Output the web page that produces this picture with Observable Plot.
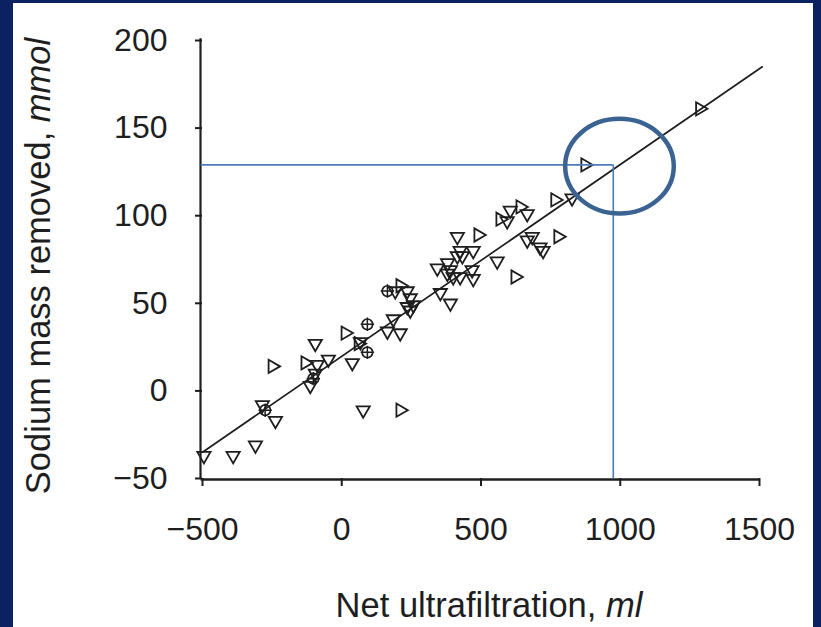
<!DOCTYPE html>
<html><head><meta charset="utf-8">
<script src="https://cdn.jsdelivr.net/npm/d3@7"></script>
<script src="https://cdn.jsdelivr.net/npm/@observablehq/plot@0.6"></script>
<style>
html,body{margin:0;padding:0;background:#0b2161;width:821px;height:627px;overflow:hidden}
#panel{position:absolute;left:13px;top:3px;width:800px;height:624px;background:#fff}
</style></head><body><div id="panel"></div>
<script>
// Data
const downX = [-495,-390,-310,-285,-238,-95,-88,-113,-95,-48,38,67,77,164,210,185,246,257,235,192,354,390,343,379,400,415,425,433,472,390,468,472,425,558,666,594,666,712,723,827,684,235,246,605,380,415];
const downY = [-37,-37,-31,-8,-17,27,15,3,10,18,16,28,-11,34,33,41,53,49,48,57,56,50,70,67,65,88,80,77,80,69,69,64,65,74,101,97,86,82,80,110,88,57,46,103,73,77];
const rightX = [-249,-131,13,60,210,210,490,623,641,569,766,777,874,1286];
const rightY = [14,16,33,27,-11,60,89,65,105,98,109,88,129,161];
const crossX = [-275,-102,92,92,164];
const crossY = [-11,7,38,22,57];
const xTicks = [-500,0,500,1000,1500];
const yTicks = [-50,0,50,100,150,200];
const fitX = [-500,1510];
const fitY = [-35,185];
const refX = 975, refY = 129;
const ellipseC = [999,128], ellipseR = [195,27];

const pts = [];
downX.forEach((x,i)=>pts.push({x, y: downY[i], rot: 180}));
rightX.forEach((x,i)=>pts.push({x, y: rightY[i], rot: 90}));
const crosses = crossX.map((x,i)=>({x, y: crossY[i]}));
const fit = fitX.map((x,i)=>({x, y: fitY[i]}));

const ink = "#1e1e1e";
const blue = "#4a7cbd";

function ellipseMark(index, scales) {
  const ns = "http://www.w3.org/2000/svg";
  const g = document.createElementNS(ns, "g");
  const e = document.createElementNS(ns, "ellipse");
  const cx = scales.x(ellipseC[0]), cy = scales.y(ellipseC[1]);
  e.setAttribute("cx", cx);
  e.setAttribute("cy", cy);
  e.setAttribute("rx", Math.abs(scales.x(ellipseC[0]+ellipseR[0]) - cx));
  e.setAttribute("ry", Math.abs(scales.y(ellipseC[1]+ellipseR[1]) - cy));
  e.setAttribute("fill", "none");
  e.setAttribute("stroke", "#3a6392");
  e.setAttribute("stroke-width", 4.5);
  g.appendChild(e);
  return g;
}

const chart = Plot.plot({
  width: 800, height: 624,
  marginLeft: 189, marginRight: 54, marginTop: 37, marginBottom: 149,
  style: {fontFamily: "'Liberation Sans', Arial, sans-serif", fontSize: "32px", color: ink, background: "#fff"},
  x: {domain: [-500,1500]},
  y: {domain: [-50,200]},
  marks: [
    Plot.axisX({ticks: xTicks, tickSize: 8, tickPadding: 31, tickFormat: d => String(d).replace("-", "\u2212"), label: null, strokeWidth: 2}),
    Plot.axisY({ticks: yTicks, tickSize: 7, tickPadding: 28, tickFormat: d => String(d).replace("-", "\u2212"), label: null, strokeWidth: 2}),
    Plot.ruleX([-500], {y1: -50, y2: 201, stroke: ink, strokeWidth: 2.2, dx: -2}),
    Plot.ruleY([-50], {x1: -505, x2: 1500, stroke: ink, strokeWidth: 2.4, dy: 1}),
    Plot.line(fit, {x: "x", y: "y", stroke: ink, strokeWidth: 1.7}),
    Plot.dot(pts, {x: "x", y: "y", symbol: "triangle", rotate: "rot", r: 4.9, stroke: ink, strokeWidth: 1.8, fill: "none"}),
    Plot.dot(crosses, {x: "x", y: "y", symbol: "circle", r: 5.3, stroke: ink, strokeWidth: 1.7, fill: "none"}),
    Plot.dot(crosses, {x: "x", y: "y", symbol: "plus", r: 4.4, stroke: ink, strokeWidth: 1.5}),
    Plot.ruleY([refY], {x1: -505, x2: refX, stroke: blue, strokeWidth: 1.6}),
    Plot.ruleX([refX], {y1: -50, y2: refY, stroke: blue, strokeWidth: 1.6}),
    ellipseMark
  ]
});
document.getElementById("panel").appendChild(chart);

// Axis titles with italic units
const svg = d3.select(chart);
const xt = svg.append("text")
  .attr("x", 476).attr("y", 614)
  .attr("text-anchor", "middle")
  .attr("font-size", 34.5).attr("fill", ink);
xt.append("tspan").text("Net ultrafiltration, ");
xt.append("tspan").attr("font-style", "italic").text("ml");
const yt = svg.append("text")
  .attr("transform", "translate(37,263) rotate(-90)")
  .attr("text-anchor", "middle")
  .attr("font-size", 34.5).attr("fill", ink);
yt.append("tspan").text("Sodium mass removed, ");
yt.append("tspan").attr("font-style", "italic").text("mmol");
</script></body></html>
